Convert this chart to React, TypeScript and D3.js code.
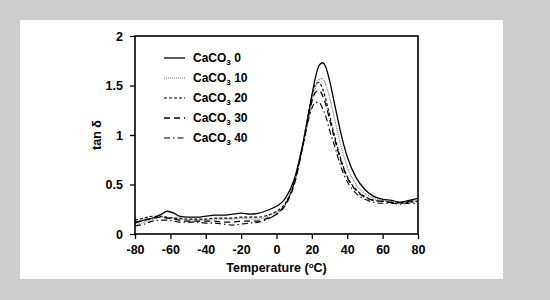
import React, { useRef, useEffect } from 'react';
import * as d3 from 'd3';

// temperature grid (°C)
const temps = [-80, -75, -70, -65, -62, -58, -55, -50, -45, -40, -35, -30, -25, -20, -15, -10, -5, 0, 5, 10, 15, 18, 20, 22, 24, 26, 28, 30, 33, 36, 40, 45, 50, 55, 60, 65, 70, 75, 80];

// tan delta for each CaCO3 loading
const caco3_0 = [0.11, 0.14, 0.16, 0.2, 0.23, 0.21, 0.18, 0.17, 0.17, 0.18, 0.19, 0.19, 0.2, 0.21, 0.2, 0.21, 0.24, 0.28, 0.36, 0.55, 0.92, 1.2, 1.4, 1.58, 1.7, 1.73, 1.68, 1.55, 1.3, 1.05, 0.78, 0.57, 0.45, 0.38, 0.35, 0.34, 0.32, 0.34, 0.36];
const caco3_10 = [0.09, 0.12, 0.15, 0.17, 0.17, 0.16, 0.15, 0.14, 0.14, 0.14, 0.15, 0.15, 0.15, 0.16, 0.15, 0.15, 0.18, 0.22, 0.3, 0.5, 0.88, 1.15, 1.33, 1.48, 1.56, 1.57, 1.5, 1.38, 1.15, 0.92, 0.68, 0.5, 0.41, 0.36, 0.34, 0.33, 0.31, 0.33, 0.34];
const caco3_20 = [0.14, 0.16, 0.18, 0.18, 0.17, 0.16, 0.16, 0.15, 0.15, 0.15, 0.16, 0.16, 0.16, 0.17, 0.17, 0.17, 0.19, 0.23, 0.31, 0.52, 0.92, 1.22, 1.4, 1.51, 1.53, 1.47, 1.35, 1.2, 0.98, 0.78, 0.58, 0.45, 0.38, 0.34, 0.33, 0.32, 0.31, 0.32, 0.33];
const caco3_30 = [0.12, 0.14, 0.16, 0.17, 0.16, 0.15, 0.14, 0.13, 0.13, 0.13, 0.13, 0.12, 0.12, 0.13, 0.13, 0.13, 0.16, 0.2, 0.29, 0.5, 0.9, 1.18, 1.34, 1.43, 1.45, 1.4, 1.3, 1.16, 0.95, 0.76, 0.57, 0.44, 0.37, 0.34, 0.33, 0.32, 0.32, 0.33, 0.34];
const caco3_40 = [0.08, 0.1, 0.13, 0.14, 0.14, 0.13, 0.12, 0.12, 0.12, 0.11, 0.11, 0.1, 0.09, 0.1, 0.11, 0.12, 0.15, 0.2, 0.3, 0.52, 0.9, 1.15, 1.27, 1.33, 1.33, 1.27, 1.18, 1.05, 0.88, 0.7, 0.53, 0.41, 0.35, 0.32, 0.31, 0.31, 0.3, 0.31, 0.31];

const seriesLabels = ['0', '10', '20', '30', '40'];
const xTicks = [-80, -60, -40, -20, 0, 20, 40, 60, 80];
const yTicks = [0, 0.5, 1, 1.5, 2];

const App = () => {
  const svgRef = useRef<SVGSVGElement>(null);

  useEffect(() => {
    const svg = d3.select(svgRef.current);
    svg.selectAll('*').remove();

    const width = 550;
    const height = 300;
    const margin = { top: 36, right: 132, bottom: 66, left: 135 };
    const chartWidth = width - margin.left - margin.right;
    const chartHeight = height - margin.top - margin.bottom;
    const font = '"Liberation Sans", Arial, sans-serif';

    svg.append('rect').attr('width', width).attr('height', height).attr('fill', '#cccccc');
    svg.append('rect').attr('x', 20).attr('y', 20).attr('width', 483).attr('height', 259).attr('fill', '#ffffff');

    const g = svg.append('g').attr('transform', `translate(${margin.left},${margin.top})`);

    const xScale = d3.scaleLinear().domain([-80, 80]).range([0, chartWidth]);
    const yScale = d3.scaleLinear().domain([0, 2]).range([chartHeight, 0]);

    const styles = [
      { dash: null, color: '#000', w: 1.3 },
      { dash: '1,1', color: '#777', w: 1.2 },
      { dash: '3,2', color: '#000', w: 1.1 },
      { dash: '6,4', color: '#000', w: 1.3 },
      { dash: '6,3,1.5,3', color: '#000', w: 1.1 },
    ];
    const allSeries = [caco3_0, caco3_10, caco3_20, caco3_30, caco3_40];

    const line = d3
      .line<number>()
      .x((d, i) => xScale(temps[i]))
      .y((d) => yScale(d))
      .curve(d3.curveMonotoneX);

    allSeries.forEach((vals, i) => {
      const p = g
        .append('path')
        .datum(vals)
        .attr('fill', 'none')
        .attr('stroke', styles[i].color)
        .attr('stroke-width', styles[i].w)
        .attr('d', line);
      if (styles[i].dash) p.attr('stroke-dasharray', styles[i].dash);
    });

    // frame
    g.append('rect')
      .attr('width', chartWidth)
      .attr('height', chartHeight)
      .attr('fill', 'none')
      .attr('stroke', '#000')
      .attr('stroke-width', 1.6);

    // axes
    const xAxis = g
      .append('g')
      .attr('transform', `translate(0,${chartHeight})`)
      .call(d3.axisBottom(xScale).tickValues(xTicks).tickSize(5).tickPadding(6).tickFormat((d) => String(d)));
    const yAxis = g
      .append('g')
      .call(d3.axisLeft(yScale).tickValues(yTicks).tickSize(5).tickPadding(7).tickFormat((d) => String(d)));

    [xAxis, yAxis].forEach((ax) => {
      ax.select('.domain').remove();
      ax.selectAll('line').attr('stroke', '#000').attr('stroke-width', 1.3);
      ax.selectAll('text')
        .attr('fill', '#000')
        .style('font-family', font)
        .style('font-size', '12.5px')
        .style('font-weight', 'bold');
    });

    // axis titles
    const xt = svg
      .append('text')
      .attr('x', margin.left + chartWidth / 2)
      .attr('y', 272)
      .attr('text-anchor', 'middle')
      .style('font-family', font)
      .style('font-size', '12.5px')
      .style('font-weight', 'bold');
    xt.append('tspan').text('Temperature (');
    xt.append('tspan').attr('dy', -4).style('font-size', '8px').text('o');
    xt.append('tspan').attr('dy', 4).text('C)');

    svg
      .append('text')
      .attr('transform', `translate(101,${margin.top + chartHeight / 2}) rotate(-90)`)
      .attr('text-anchor', 'middle')
      .style('font-family', font)
      .style('font-size', '12.5px')
      .style('font-weight', 'bold')
      .text('tan δ');

    // legend
    seriesLabels.forEach((lab, i) => {
      const y = 58 + i * 20;
      const l = svg
        .append('line')
        .attr('x1', 164)
        .attr('x2', 185)
        .attr('y1', y)
        .attr('y2', y)
        .attr('stroke', styles[i].color)
        .attr('stroke-width', styles[i].w);
      if (styles[i].dash) l.attr('stroke-dasharray', styles[i].dash);
      const t = svg
        .append('text')
        .attr('x', 193)
        .attr('y', y + 4)
        .style('font-family', font)
        .style('font-size', '12px')
        .style('font-weight', 'bold');
      t.append('tspan').text('CaCO');
      t.append('tspan').attr('dy', 3).style('font-size', '8px').text('3');
      t.append('tspan').attr('dy', -3).text(' ' + lab);
    });
  }, []);

  return (
    <div>
      <svg ref={svgRef} width={550} height={300} style={{ position: 'absolute', left: 0, top: 0 }}></svg>
    </div>
  );
};

export default App;
